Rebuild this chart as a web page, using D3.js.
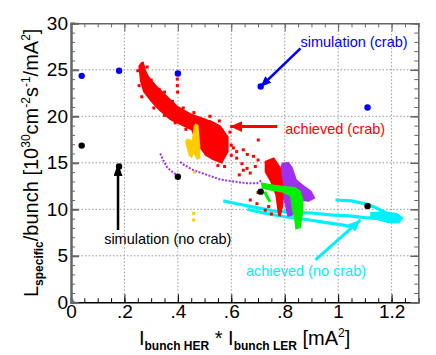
<!DOCTYPE html>
<html>
<head>
<meta charset="utf-8">
<script src="https://cdn.jsdelivr.net/npm/d3@7"></script>
<style>
  body { margin: 0; background: #fff; }
  text { font-family: "Liberation Sans", Arial, sans-serif; }
</style>
</head>
<body>
<svg id="chart" width="436" height="355"></svg>
<script>
// axis ticks
const xTicks = [0, 0.2, 0.4, 0.6, 0.8, 1, 1.2];
const xTickLabels = ["0", ".2", ".4", ".6", ".8", "1", "1.2"];
const yTicks = [0, 5, 10, 15, 20, 25, 30];

// simulation points
const crabSimX = [0.04, 0.18, 0.40, 0.71, 1.11];
const crabSimY = [24.35, 24.9, 24.6, 23.2, 20.95];
const noCrabSimX = [0.04, 0.18, 0.40, 0.71, 1.11];
const noCrabSimY = [16.85, 14.6, 13.5, 11.9, 10.35];

// achieved (crab) - red
const redBand = [[0.262,25.8],[0.272,25.9],[0.28,25.0],[0.29,24.4],[0.32,23.3],[0.36,22.2],[0.40,21.1],[0.45,20.3],[0.50,19.8],[0.54,19.3],[0.57,18.6],[0.585,17.5],[0.58,16.2],[0.56,15.1],[0.53,15.6],[0.50,15.9],[0.47,17.0],[0.45,18.5],[0.42,18.9],[0.37,19.6],[0.33,20.6],[0.30,21.5],[0.27,22.6],[0.258,23.8],[0.252,25.4]];
const redCore = [[0.47,19.3],[0.52,19.6],[0.56,19.0],[0.59,17.8],[0.59,16.2],[0.565,14.9],[0.53,15.3],[0.50,15.8],[0.48,17.5]];
const redCore2 = [[0.725,15.2],[0.76,15.6],[0.785,14.5],[0.795,12.5],[0.795,10.5],[0.785,9.2],[0.775,9.3],[0.765,11.5],[0.745,13.0],[0.725,14.0]];
const redDots = [[0.398,24.0],[0.398,23.3],[0.399,22.6],[0.25,24.9],[0.255,23.3],[0.265,22.1],[0.285,25.3],[0.30,23.9],[0.33,22.9],[0.35,22.6],[0.38,21.6],[0.42,20.9],[0.46,20.4],[0.31,20.9],[0.35,20.1],[0.39,19.3],[0.43,18.6],[0.52,20.0],[0.555,19.5],[0.595,18.3],[0.60,16.9],[0.575,14.6],[0.55,14.7],[0.559,17.4],[0.608,16.6],[0.62,16.2],[0.645,16.4],[0.66,15.9],[0.683,15.7],[0.701,17.45],[0.70,15.3],[0.62,15.5],[0.64,14.9],[0.645,14.2],[0.671,13.9],[0.659,14.4],[0.69,14.6],[0.60,15.8],[0.63,13.7],[0.671,11.0],[0.696,10.6],[0.727,9.9],[0.74,10.3],[0.75,9.5],[0.70,11.8],[0.72,12.5]];

// yellow
const yellowBlob = [[0.465,19.25],[0.477,19.06],[0.484,16.9],[0.484,15.5],[0.471,15.3],[0.459,16.0],[0.452,15.5],[0.44,15.8],[0.427,17.3],[0.434,17.6],[0.452,17.45],[0.459,18.9]];
const yellowDots = [[0.459,9.57],[0.459,8.85],[0.462,14.0]];

// purple
const purpleBlob = [[0.78,14.3],[0.79,15.0],[0.815,15.1],[0.83,14.5],[0.845,13.2],[0.87,12.6],[0.90,12.0],[0.915,11.2],[0.89,10.8],[0.86,10.9],[0.84,10.5],[0.83,9.3],[0.81,9.2],[0.80,10.5],[0.785,12.0]];
const purpleTrailA = [[0.334,16.0],[0.345,15.3],[0.36,14.5],[0.38,14.0],[0.40,13.6]];
const purpleTrailB = [[0.409,15.1],[0.421,14.8],[0.459,14.2],[0.509,13.7],[0.559,13.2],[0.609,13.0],[0.659,12.8],[0.696,12.8],[0.715,13.15]];

// green
const greenBlob = [[0.71,12.9],[0.75,12.7],[0.80,12.5],[0.84,12.4],[0.86,12.0],[0.87,11.0],[0.868,9.5],[0.86,8.0],[0.84,7.8],[0.835,9.0],[0.825,10.2],[0.82,11.4],[0.79,11.8],[0.75,12.0],[0.715,12.2]];
const greenBranch = [[0.725,11.9],[0.735,11.3],[0.745,10.8]];

// achieved (no crab) - cyan
const cyanLine1 = [[0.57,10.9],[0.62,10.6],[0.69,10.2],[0.76,9.8],[0.83,9.7],[0.90,9.6],[0.97,9.4],[1.04,9.3],[1.10,9.1],[1.15,9.0]];
const cyanLine2 = [[0.66,10.0],[0.72,9.6],[0.80,9.2],[0.88,8.9],[0.95,8.6],[1.02,8.3],[1.07,8.0]];
const cyanLine3 = [[0.99,11.0],[1.05,10.9],[1.10,10.6],[1.14,10.2],[1.18,9.6]];
const cyanBlob = [[1.12,9.7],[1.17,9.8],[1.22,9.6],[1.245,9.1],[1.23,8.5],[1.19,8.5],[1.15,8.8],[1.12,9.1]];
const cyanDots = [[0,0]];

const svg = d3.select("#chart");
const margin = { top: 23.3, right: 17.7, bottom: 52.7, left: 71 };
const W = +svg.attr("width") - margin.left - margin.right;
const H = +svg.attr("height") - margin.top - margin.bottom;

const x = d3.scaleLinear().domain([0, 1.3]).range([0, W]);
const y = d3.scaleLinear().domain([0, 30]).range([H, 0]);

const defs = svg.append("defs");

function arrowMarker(id, color, len, wid) {
  defs.append("marker").attr("id", id)
    .attr("markerUnits", "userSpaceOnUse")
    .attr("viewBox", `0 0 ${len} ${wid}`)
    .attr("refX", len).attr("refY", wid / 2)
    .attr("markerWidth", len).attr("markerHeight", wid)
    .attr("orient", "auto")
    .append("path").attr("d", `M0,0L${len},${wid / 2}L0,${wid}Z`).attr("fill", color);
}
arrowMarker("ah-blue", "#0000ff", 11, 9);
arrowMarker("ah-red", "#ff0000", 12, 11);
arrowMarker("ah-black", "#000", 12, 9);
arrowMarker("ah-cyan", "#00f0ff", 12, 10);

const g = svg.append("g").attr("transform", `translate(${margin.left},${margin.top})`);

// grid
g.append("g").selectAll("line").data(xTicks.slice(1))
  .join("line")
  .attr("x1", d => x(d)).attr("x2", d => x(d)).attr("y1", 0).attr("y2", H)
  .attr("stroke", "#999").attr("stroke-dasharray", "1.5,2");
g.append("g").selectAll("line").data(yTicks.slice(1, -1))
  .join("line")
  .attr("x1", 0).attr("x2", W).attr("y1", d => y(d)).attr("y2", d => y(d))
  .attr("stroke", "#999").attr("stroke-dasharray", "1.5,2");

const line = d3.line().x(d => x(d[0])).y(d => y(d[1]));
const poly = pts => line(pts) + "Z";

// cyan
[cyanLine1, cyanLine2, cyanLine3].forEach(pts => {
  g.append("path").attr("d", line(pts)).attr("fill", "none")
    .attr("stroke", "#00f0ff").attr("stroke-width", 3.2).attr("stroke-linejoin", "round");
});
g.append("path").attr("d", poly(cyanBlob)).attr("fill", "#00f0ff");
g.selectAll(".cdot").data(cyanDots).join("rect")
  .attr("x", d => x(d[0])).attr("y", d => y(d[1]) - 3).attr("width", 3).attr("height", 3)
  .attr("fill", "#00f0ff");

// purple
[purpleTrailA, purpleTrailB].forEach(pts => {
  g.append("path").attr("d", line(pts)).attr("fill", "none")
    .attr("stroke", "#a030f0").attr("stroke-width", 2).attr("stroke-dasharray", "2,1.5");
});
g.append("path").attr("d", poly(purpleBlob)).attr("fill", "#a030f0");

// red
g.append("path").attr("d", poly(redBand)).attr("fill", "#ff0000");
g.append("path").attr("d", poly(redCore)).attr("fill", "#ff0000");
g.append("path").attr("d", poly(redCore2)).attr("fill", "#ff0000");
g.selectAll(".rdot").data(redDots).join("rect")
  .attr("x", d => x(d[0]) - 1.5).attr("y", d => y(d[1]) - 1.5).attr("width", 3).attr("height", 3)
  .attr("fill", "#ff0000");

// yellow
g.append("path").attr("d", poly(yellowBlob)).attr("fill", "#ffcc00");
g.selectAll(".ydot").data(yellowDots).join("rect")
  .attr("x", d => x(d[0]) - 1.5).attr("y", d => y(d[1]) - 1.5).attr("width", 3).attr("height", 3)
  .attr("fill", "#ffcc00");

// green
g.append("path").attr("d", poly(greenBlob)).attr("fill", "#00f000");
g.append("path").attr("d", line(greenBranch)).attr("fill", "none")
  .attr("stroke", "#00f000").attr("stroke-width", 3);

// simulation points
g.selectAll(".sim-crab").data(crabSimX).join("circle")
  .attr("cx", d => x(d)).attr("cy", (d, i) => y(crabSimY[i])).attr("r", 3.2).attr("fill", "#0000ff");
g.selectAll(".sim-nocrab").data(noCrabSimX).join("circle")
  .attr("cx", d => x(d)).attr("cy", (d, i) => y(noCrabSimY[i])).attr("r", 3.2).attr("fill", "#000");

// annotations
const notes = [
  { text: "simulation (crab)", tx: 0.859, ty: 27.4, from: [0.859, 27.3], to: [0.709, 23.15], color: "#0000ff", head: "ah-blue", w: 2.5 },
  { text: "achieved (crab)", tx: 0.802, ty: 18.15, from: [0.772, 18.9], to: [0.596, 18.9], color: "#ff0000", head: "ah-red", w: 3 },
  { text: "simulation (no crab)", tx: 0.124, ty: 6.27, from: [0.176, 7.77], to: [0.176, 14.87], color: "#000", head: "ah-black", w: 2.5 },
  { text: "achieved (no crab)", tx: 0.655, ty: 2.83, from: [0.915, 4.55], to: [1.084, 8.85], color: "#00f0ff", head: "ah-cyan", w: 3 }
];
notes.forEach(n => {
  g.append("line")
    .attr("x1", x(n.from[0])).attr("y1", y(n.from[1]))
    .attr("x2", x(n.to[0])).attr("y2", y(n.to[1]))
    .attr("stroke", n.color).attr("stroke-width", n.w)
    .attr("marker-end", `url(#${n.head})`);
  g.append("text").attr("x", x(n.tx)).attr("y", y(n.ty))
    .attr("fill", n.color).style("font-size", "14.5px").text(n.text);
});

// axes
const axisColor = "#666";
const xMinor = d3.range(0, 1.3001, 0.05);
const yMinor = d3.range(0, 30.001, 1);

const bottomAxis = g.append("g").attr("transform", `translate(0,${H})`)
  .call(d3.axisBottom(x).tickValues(xMinor).tickSize(-4).tickFormat(""));
bottomAxis.selectAll("line").attr("stroke", "#000");
const bottomMajor = g.append("g").attr("transform", `translate(0,${H})`)
  .call(d3.axisBottom(x).tickValues(xTicks).tickSize(-8).tickPadding(2)
    .tickFormat((d, i) => xTickLabels[i]));
bottomMajor.selectAll("line").attr("stroke", "#000");
bottomMajor.selectAll("text").style("font-size", "19px").attr("fill", "#000");
bottomAxis.select(".domain").attr("stroke", "#000").attr("stroke-width", 1.5);
bottomMajor.select(".domain").remove();

const topAxis = g.append("g")
  .call(d3.axisTop(x).tickValues(xMinor).tickSize(-4).tickFormat(""));
topAxis.selectAll("line").attr("stroke", axisColor);
g.append("g").call(d3.axisTop(x).tickValues(xTicks).tickSize(-8).tickFormat(""))
  .call(a => a.select(".domain").remove())
  .selectAll("line").attr("stroke", axisColor);
topAxis.select(".domain").attr("stroke", axisColor).attr("stroke-width", 1.5);

const leftAxis = g.append("g")
  .call(d3.axisLeft(y).tickValues(yMinor).tickSize(-4).tickFormat(""));
leftAxis.selectAll("line").attr("stroke", axisColor);
leftAxis.select(".domain").attr("stroke", axisColor).attr("stroke-width", 2.5);
const leftMajor = g.append("g")
  .call(d3.axisLeft(y).tickValues(yTicks).tickSize(-8).tickPadding(3));
leftMajor.select(".domain").remove();
leftMajor.selectAll("line").attr("stroke", axisColor).attr("stroke-width", 2);
leftMajor.selectAll("text").style("font-size", "19px").attr("fill", "#000");

const rightAxis = g.append("g").attr("transform", `translate(${W},0)`)
  .call(d3.axisRight(y).tickValues(yMinor).tickSize(-4).tickFormat(""));
rightAxis.selectAll("line").attr("stroke", axisColor);
rightAxis.select(".domain").attr("stroke", axisColor).attr("stroke-width", 1.5);
g.append("g").attr("transform", `translate(${W},0)`)
  .call(d3.axisRight(y).tickValues(yTicks).tickSize(-8).tickFormat(""))
  .call(a => a.select(".domain").remove())
  .selectAll("line").attr("stroke", axisColor).attr("stroke-width", 1.5);

svg.selectAll("g").attr("font-family", null);

// axis titles
const yTitle = svg.append("text")
  .attr("transform", `translate(38,${margin.top + H / 2}) rotate(-90)`)
  .attr("text-anchor", "middle").style("font-size", "20px").attr("fill", "#000");
yTitle.append("tspan").text("L");
yTitle.append("tspan").attr("dy", 5).style("font-size", "12px").style("font-weight", "bold").text("specific");
yTitle.append("tspan").attr("dy", -5).text("/bunch [10");
yTitle.append("tspan").attr("dy", -8).style("font-size", "12px").text("30");
yTitle.append("tspan").attr("dy", 8).text("cm");
yTitle.append("tspan").attr("dy", -8).style("font-size", "12px").text("-2");
yTitle.append("tspan").attr("dy", 8).text("s");
yTitle.append("tspan").attr("dy", -8).style("font-size", "12px").text("-1");
yTitle.append("tspan").attr("dy", 8).text("/mA");
yTitle.append("tspan").attr("dy", -8).style("font-size", "12px").text("2");
yTitle.append("tspan").attr("dy", 8).text("]");

const xTitle = svg.append("text")
  .attr("x", margin.left + W / 2).attr("y", 345)
  .attr("text-anchor", "middle").style("font-size", "20px").attr("fill", "#000");
xTitle.append("tspan").text("I");
xTitle.append("tspan").attr("dy", 5).style("font-size", "12px").style("font-weight", "bold").text("bunch HER");
xTitle.append("tspan").attr("dy", -5).text(" * I");
xTitle.append("tspan").attr("dy", 5).style("font-size", "12px").style("font-weight", "bold").text("bunch LER");
xTitle.append("tspan").attr("dy", -5).text(" [mA");
xTitle.append("tspan").attr("dy", -8).style("font-size", "12px").text("2");
xTitle.append("tspan").attr("dy", 8).text("]");
</script>
</body>
</html>
